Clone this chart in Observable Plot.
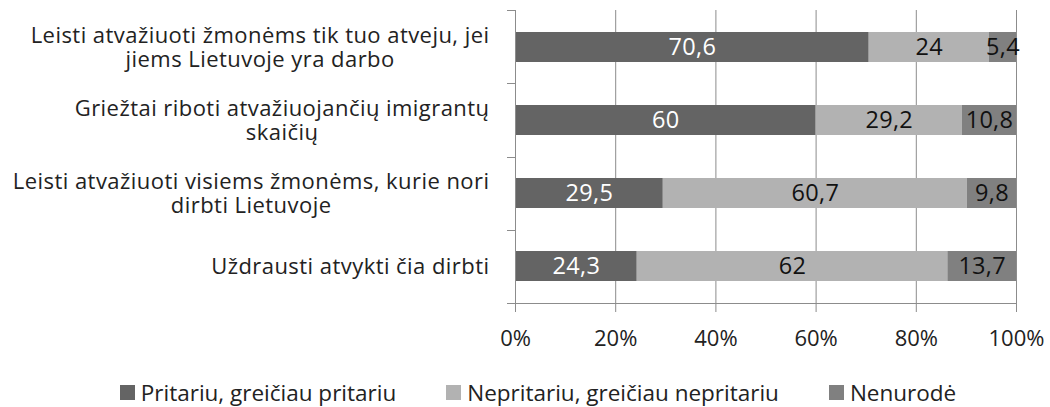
<!DOCTYPE html>
<html>
<head>
<meta charset="utf-8">
<script src="https://cdn.jsdelivr.net/npm/d3@7"></script>
<script src="https://cdn.jsdelivr.net/npm/@observablehq/plot@0.6"></script>
<style>
  html, body { margin: 0; padding: 0; background: #fff; }
  #wrap { width: 1050px; height: 407px; overflow: hidden; font-family: "Open Sans", Lato, sans-serif; }
  .legend { display: flex; justify-content: center; align-items: center; height: 42px; padding-left: 26px; padding-top: 12px; box-sizing: border-box; font-size: 22.5px; color: #222; }
  .legend .item { display: flex; align-items: center; margin: 0 25px; }
  .legend .sw { width: 15px; height: 15px; margin-right: 6px; display: inline-block; }
  g[aria-label="y-axis tick label"] text { letter-spacing: 0.45px; }
  g[aria-label="text"] text { letter-spacing: 0.3px; }
</style>
</head>
<body>
<div id="wrap"></div>
<script>
const categories = [
  "Leisti atvažiuoti žmonėms tik tuo atveju, jei\njiems Lietuvoje yra darbo",
  "Griežtai riboti atvažiuojančių imigrantų\nskaičių",
  "Leisti atvažiuoti visiems žmonėms, kurie nori\ndirbti Lietuvoje",
  "Uždrausti atvykti čia dirbti"
];
const series = ["Pritariu, greičiau pritariu", "Nepritariu, greičiau nepritariu", "Nenurodė"];
const pritariu   = [70.6, 60, 29.5, 24.3];
const nepritariu = [24, 29.2, 60.7, 62];
const nenurode   = [5.4, 10.8, 9.8, 13.7];
const xTicks = [0, 20, 40, 60, 80, 100];
const colors = ["#646464", "#b2b2b2", "#808080"];

const seriesValues = [pritariu, nepritariu, nenurode];
const data = categories.flatMap((c, i) =>
  series.map((s, j) => ({ category: c, series: s, value: seriesValues[j][i] }))
);
const fmt = v => String(v).replace(".", ",");

const gridColor = "#8c8c8c";

const chart = Plot.plot({
  width: 1050,
  height: 365,
  marginLeft: 515,
  marginRight: 34,
  marginTop: 10,
  marginBottom: 62,
  style: { fontFamily: "'Open Sans', Lato, sans-serif", fontSize: "22px", color: "#222", background: "white" },
  x: { domain: [0, 100], label: null },
  y: { domain: categories, paddingInner: 0.59, paddingOuter: 0.295, label: null },
  color: { domain: series, range: colors },
  marks: [
    Plot.gridX(xTicks.filter(t => t > 0), { stroke: gridColor, strokeOpacity: 1, strokeWidth: 1 }),
    Plot.barX(data, Plot.stackX({ x: "value", y: "category", fill: "series", order: series })),
    Plot.text(data, Plot.stackX({
      x: "value", y: "category", z: "series", order: series,
      text: d => d.series === series[0] ? fmt(d.value) : "",
      fill: "white", fontSize: 23.5
    })),
    Plot.text(data, Plot.stackX({
      x: "value", y: "category", z: "series", order: series,
      text: d => d.series === series[0] ? "" : fmt(d.value),
      fill: "#111", fontSize: 23.5
    })),
    Plot.frame({ anchor: "left", stroke: gridColor }),
    Plot.frame({ anchor: "bottom", stroke: gridColor }),
    Plot.axisX({ ticks: xTicks, tickFormat: d => d + "%", tickSize: 9, tickPadding: 18, stroke: gridColor, fill: "#222", fontSize: 22 }),
    Plot.axisY({ tickSize: 0, tickPadding: 26, fill: "#222", fontSize: 22, lineHeight: 1.09 })
  ]
});

document.getElementById("wrap").appendChild(chart);

// Category boundary ticks on the y axis (Excel-style), from the plot's y scale
const ys = chart.scale("y");
const y0 = Math.min(...ys.range), y1 = Math.max(...ys.range);
const step = (y1 - y0) / categories.length;
const bounds = d3.range(categories.length + 1).map(i => y0 + i * step);
d3.select(chart).append("g")
  .attr("stroke", gridColor)
  .selectAll("line").data(bounds).join("line")
  .attr("x1", 515 - 8).attr("x2", 515)
  .attr("y1", d => Math.round(d) + 0.5).attr("y2", d => Math.round(d) + 0.5);

// Center the wrapped lines of each category label within its block
chart.querySelectorAll('g[aria-label="y-axis tick label"] text').forEach(t => {
  const spans = t.querySelectorAll("tspan");
  if (spans.length < 2) return;
  const W = Math.max(...Array.from(spans, s => s.getComputedTextLength()));
  t.setAttribute("text-anchor", "middle");
  spans.forEach(s => s.setAttribute("x", -W / 2));
});

// Legend below the chart
const legend = d3.select("#wrap").append("div").attr("class", "legend");
const items = legend.selectAll(".item").data(series).join("div").attr("class", "item");
items.append("span").attr("class", "sw").style("background", (d, i) => colors[i]);
items.append("span").text(d => d);
</script>
</body>
</html>
